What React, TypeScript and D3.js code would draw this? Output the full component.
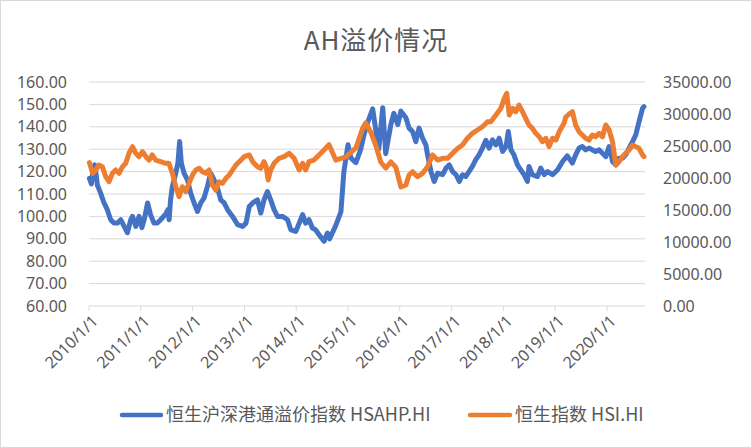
import React from 'react';
import * as d3 from 'd3';

const chartTitle = 'AH溢价情况';
const seriesNames = ['恒生沪深港通溢价指数 HSAHP.HI', '恒生指数 HSI.HI'];
const seriesColors = ['#4472C4', '#ED7D31'];

const hsahpDates = [
  '2010-01-04','2010-01-18','2010-02-01','2010-02-10','2010-02-22','2010-03-01','2010-03-24','2010-04-17','2010-05-10','2010-06-03',
  '2010-06-26','2010-07-20','2010-08-13','2010-09-06','2010-09-29','2010-10-22','2010-11-04','2010-11-27','2010-12-20','2011-01-09',
  '2011-01-25','2011-02-18','2011-03-11','2011-04-04','2011-04-28','2011-05-21','2011-06-25','2011-07-12','2011-07-20','2011-07-30',
  '2011-08-12','2011-09-05','2011-09-20','2011-10-02','2011-10-14','2011-11-02','2011-11-26','2011-12-19','2012-01-12','2012-02-05',
  '2012-02-28','2012-03-22','2012-04-15','2012-05-08','2012-06-01','2012-06-25','2012-07-18','2012-08-11','2012-09-04','2012-10-09',
  '2012-11-14','2012-12-19','2013-01-12','2013-02-04','2013-02-28','2013-04-03','2013-04-26','2013-05-19','2013-06-12','2013-07-05',
  '2013-07-29','2013-08-22','2013-09-26','2013-11-01','2013-11-24','2013-12-29','2014-01-22','2014-02-15','2014-03-08','2014-04-01',
  '2014-04-25','2014-05-18','2014-06-11','2014-07-16','2014-08-09','2014-08-25','2014-10-07','2014-11-12','2014-11-26','2014-12-03',
  '2015-01-01','2015-01-22','2015-02-26','2015-04-01','2015-04-22','2015-05-20','2015-06-24','2015-07-15','2015-08-06','2015-09-03',
  '2015-09-24','2015-10-30','2015-11-20','2015-12-18','2016-01-09','2016-02-13','2016-03-07','2016-03-31','2016-04-23','2016-05-16',
  '2016-06-10','2016-07-03','2016-07-15','2016-08-08','2016-08-31','2016-09-24','2016-10-29','2016-11-22','2016-12-15','2017-01-08',
  '2017-02-01','2017-02-24','2017-03-18','2017-04-10','2017-05-03','2017-05-27','2017-06-20','2017-07-13','2017-08-06','2017-08-30',
  '2017-09-22','2017-10-16','2017-11-09','2017-12-02','2017-12-26','2018-01-19','2018-02-04','2018-02-23','2018-03-16','2018-04-10',
  '2018-05-03','2018-05-26','2018-06-19','2018-06-30','2018-07-24','2018-08-29','2018-09-21','2018-10-15','2018-11-08','2018-12-13',
  '2019-01-18','2019-02-22','2019-03-27','2019-05-02','2019-05-25','2019-06-18','2019-07-11','2019-08-04','2019-08-27','2019-09-20',
  '2019-10-13','2019-11-06','2019-11-30','2019-12-23','2020-01-16','2020-02-09','2020-03-03','2020-03-26','2020-04-19','2020-05-12',
  '2020-06-05','2020-06-29','2020-07-22','2020-08-14','2020-09-08','2020-09-18'
];
const hsahpValues = [
  117,114.5,122,123,117.8,114,110.4,106,103,98.5,
  97,97,98.5,95.5,92.7,98.5,100,95.5,100,95,
  98.5,106,100.8,97,97,98.5,101,103,98.5,107.4,
  113.4,119.3,124,133.4,123.8,119.3,116.3,110.4,106,102.2,
  106,108.2,113.4,119.3,116.3,112.6,107.4,106,103,100,
  96.3,95.5,97,104.4,106,107.4,101.5,107.4,111.1,107.4,
  103,100,100,98.5,94,93.3,97,100.8,97,98.5,
  94.8,94,91.8,88.9,92.6,90,96,102,114,120,
  132,126,124,130,136,142,148,139,130,148.5,
  128,141,146,141,147,144,139.4,137.9,133.4,139.4,
  134.9,131.9,127.5,120,115.6,119.3,118.6,121.6,123,120,
  118.6,115.6,118.6,117.8,120,122.3,125.3,127.5,130.5,134,
  130.5,134.2,131.9,134.9,129,131.2,137.9,129.7,127.5,123,
  120.8,118.6,115.6,122.3,118.6,117.8,121.6,118.6,120,118.6,
  120.8,124.5,127,123.8,127.5,130.5,131.2,129.7,130.5,129.7,
  129,129.7,128.2,126.7,131.2,124.5,123,126,126,127.5,
  130.5,133.4,136.4,142.3,148.3,149
];

const hsiDates = [
  '2010-01-04','2010-01-27','2010-02-19','2010-03-12','2010-04-05','2010-04-29','2010-05-22','2010-06-15','2010-07-08','2010-08-01',
  '2010-08-25','2010-09-17','2010-10-10','2010-11-04','2010-11-27','2010-12-20','2011-01-13','2011-02-06','2011-02-28','2011-03-23',
  '2011-04-16','2011-05-21','2011-06-25','2011-07-18','2011-08-12','2011-09-05','2011-09-28','2011-10-21','2011-11-14','2011-12-07',
  '2012-01-01','2012-01-24','2012-02-17','2012-03-11','2012-04-04','2012-04-27','2012-05-20','2012-06-13','2012-07-06','2012-07-30',
  '2012-08-23','2012-09-16','2012-10-09','2012-11-02','2012-11-25','2012-12-30','2013-02-04','2013-02-28','2013-04-03','2013-04-26',
  '2013-05-19','2013-06-03','2013-06-17','2013-07-05','2013-07-29','2013-09-02','2013-10-08','2013-11-12','2013-12-17','2014-01-22',
  '2014-02-15','2014-03-08','2014-04-01','2014-05-06','2014-06-11','2014-07-16','2014-08-20','2014-10-07','2014-12-17','2015-02-26',
  '2015-04-15','2015-05-06','2015-06-10','2015-07-15','2015-08-20','2015-09-24','2015-10-30','2015-12-04','2016-01-09','2016-02-13',
  '2016-03-07','2016-03-31','2016-05-05','2016-06-10','2016-07-15','2016-08-19','2016-09-24','2016-10-29','2016-12-04','2017-01-08',
  '2017-02-13','2017-03-18','2017-04-22','2017-05-27','2017-07-02','2017-08-06','2017-09-11','2017-10-04','2017-11-09','2017-12-14',
  '2018-01-07','2018-01-24','2018-02-11','2018-03-07','2018-03-29','2018-04-21','2018-05-15','2018-06-07','2018-06-30','2018-07-24',
  '2018-08-17','2018-09-10','2018-10-03','2018-10-27','2018-11-19','2018-12-13','2019-01-06','2019-01-29','2019-03-04','2019-03-16',
  '2019-04-09','2019-05-02','2019-05-25','2019-06-18','2019-07-11','2019-08-04','2019-08-27','2019-09-20','2019-10-13','2019-11-06',
  '2019-11-30','2019-12-23','2020-01-16','2020-02-09','2020-03-03','2020-03-26','2020-04-19','2020-05-12','2020-06-05','2020-06-29',
  '2020-07-22','2020-08-14','2020-09-08','2020-09-18'
];
const hsiValues = [
  22400,20730,21250,22030,21770,20200,19420,20730,21250,20730,
  21770,22300,23860,24900,23860,23330,24100,23330,22800,23600,
  22800,22550,22300,22300,20730,18640,17080,18640,17860,19170,
  20470,21250,21510,20990,20730,21250,18900,18125,19420,19170,
  19950,20470,21250,22030,22550,23330,23600,22550,21770,21510,
  22550,21770,19690,21250,22300,23080,23330,23860,23080,21250,
  22300,21250,22550,22800,23600,24380,25200,22800,23300,24700,
  27800,28600,27200,25150,22500,21560,22500,21700,18600,18900,
  20470,20990,20200,20730,21770,23600,22800,23080,23080,23860,
  24640,25160,26200,26980,27500,28020,28800,28800,29840,30890,
  32450,33230,29840,30890,30360,31400,30360,29320,28280,27760,
  26980,26450,25670,26200,24900,26200,25940,27230,28540,29500,
  30000,30360,28280,27230,26720,26200,25940,26720,26450,26980,
  26450,28280,27500,25670,22030,22550,23330,23860,24380,25160,
  24900,24640,23600,23330
];

const yearTickLabels = ['2010/1/1','2011/1/1','2012/1/1','2013/1/1','2014/1/1','2015/1/1','2016/1/1','2017/1/1','2018/1/1','2019/1/1','2020/1/1'];
const leftTicks = [60, 70, 80, 90, 100, 110, 120, 130, 140, 150, 160];
const rightTicks = [0, 5000, 10000, 15000, 20000, 25000, 30000, 35000];
const axisStart = '2010-01-01';
const axisEnd = '2020-09-25';

const W = 752;
const H = 448;
const plot = { left: 89, right: 645, top: 82, bottom: 306 };

const parse = d3.utcParse('%Y-%m-%d');
const parseTick = d3.utcParse('%Y/%m/%d');

export default function App() {
  const x = d3.scaleUtc().domain([parse(axisStart)!, parse(axisEnd)!]).range([plot.left, plot.right]);
  const yL = d3.scaleLinear().domain([60, 160]).range([plot.bottom, plot.top]);
  const yR = d3.scaleLinear().domain([0, 35000]).range([plot.bottom, plot.top]);

  const blue = hsahpDates.map((d, i) => ({ date: parse(d)!, v: hsahpValues[i] }));
  const orange = hsiDates.map((d, i) => ({ date: parse(d)!, v: hsiValues[i] }));

  const lineL = d3.line<{ date: Date; v: number }>().x(d => x(d.date)).y(d => yL(d.v));
  const lineR = d3.line<{ date: Date; v: number }>().x(d => x(d.date)).y(d => yR(d.v));

  const numFont = '"Noto Sans", sans-serif';
  const cjkFont = '"Noto Sans CJK SC", "Noto Sans", sans-serif';
  const grey = '#595959';
  const grid = '#d9d9d9';

  const legendY = 415;

  return (
    <div style={{ position: 'absolute', left: 0, top: 0 }}>
      <svg width={W} height={H} style={{ display: 'block', background: '#fff' }}>
        <rect x={0.5} y={0.5} width={W - 1} height={H - 1} fill="#fff" stroke={grid} />
        <text x={W / 2} y={38} textAnchor="middle" dominantBaseline="central" fontFamily={cjkFont} fontSize={26} letterSpacing={1} fill={grey}>
          {chartTitle}
        </text>
        {leftTicks.map(t => (
          <g key={'g' + t}>
            <line x1={plot.left} x2={plot.right} y1={yL(t)} y2={yL(t)} stroke={grid} strokeWidth={1} />
            <text x={67} y={yL(t)} dy="0.35em" textAnchor="end" fontFamily={numFont} fontSize={16} fill={grey}>
              {t.toFixed(2)}
            </text>
          </g>
        ))}
        {rightTicks.map(t => (
          <text key={'r' + t} x={663} y={yR(t)} dy="0.35em" textAnchor="start" fontFamily={numFont} fontSize={16} fill={grey}>
            {t.toFixed(2)}
          </text>
        ))}
        {yearTickLabels.map(lbl => {
          const tx = x(parseTick(lbl)!);
          return (
            <g key={lbl}>
              <line x1={tx} x2={tx} y1={plot.bottom} y2={plot.bottom + 5} stroke={grid} />
              <text
                transform={`translate(${tx + 6},${plot.bottom + 12}) rotate(-45)`}
                textAnchor="end"
                dy="0.35em"
                fontFamily={numFont}
                fontSize={16}
                fill={grey}
              >
                {lbl}
              </text>
            </g>
          );
        })}
        <path d={lineL(blue)!} fill="none" stroke={seriesColors[0]} strokeWidth={5} strokeLinejoin="round" strokeLinecap="round" />
        <path d={lineR(orange)!} fill="none" stroke={seriesColors[1]} strokeWidth={5} strokeLinejoin="round" strokeLinecap="round" />
        <g>
          <line x1={122} x2={161} y1={legendY} y2={legendY} stroke={seriesColors[0]} strokeWidth={4.5} strokeLinecap="round" />
          <text x={166} y={legendY} dy="0.35em" fontFamily={cjkFont} fontSize={18} fill={grey}>{seriesNames[0]}</text>
          <line x1={470} x2={510} y1={legendY} y2={legendY} stroke={seriesColors[1]} strokeWidth={4.5} strokeLinecap="round" />
          <text x={515} y={legendY} dy="0.35em" fontFamily={cjkFont} fontSize={18} fill={grey}>{seriesNames[1]}</text>
        </g>
      </svg>
    </div>
  );
}
